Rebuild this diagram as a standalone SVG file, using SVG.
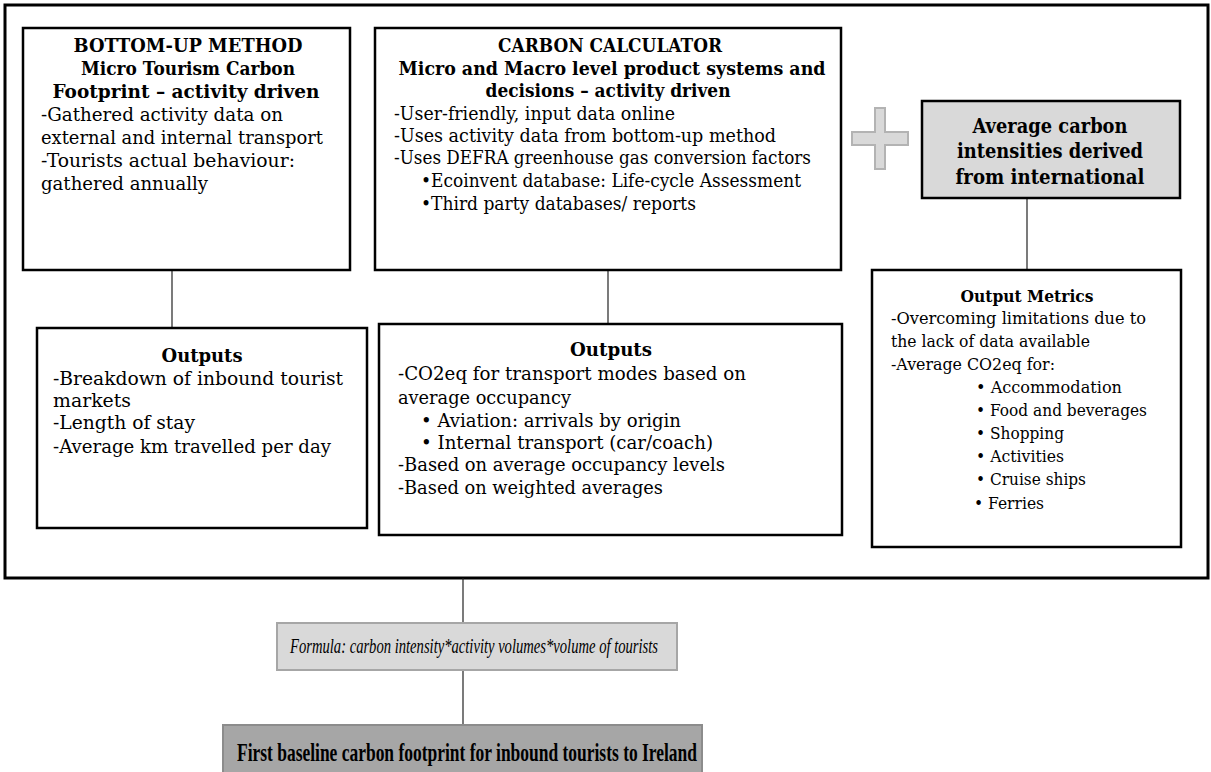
<svg xmlns="http://www.w3.org/2000/svg" width="1211" height="772" viewBox="0 0 1211 772">
<style>
.box{fill:#fff;stroke:#000;stroke-width:2.5}
.t{font-family:"DejaVu Serif","Liberation Serif",serif;font-size:18px;fill:#000}
.b{font-weight:bold}
.c{text-anchor:middle}
.con{stroke:#222;stroke-width:1.2;fill:none}
</style>
<rect x="0" y="0" width="1211" height="772" fill="#fff"/>
<g id="frame"><rect x="5" y="5" width="1203" height="573" fill="none" stroke="#000" stroke-width="3"/></g>
<g id="connectors">
<line class="con" x1="172" y1="270" x2="172" y2="328"/>
<line class="con" x1="608" y1="270" x2="608" y2="324"/>
<line class="con" x1="1027" y1="198" x2="1027" y2="270"/>
<line class="con" x1="463" y1="578" x2="463" y2="623"/>
<line class="con" x1="463" y1="670" x2="463" y2="725"/>
</g>
<g id="bottomup">
<rect class="box" x="23" y="28" width="327" height="242"/>
<text class="t b c" x="188" y="52" textLength="229" lengthAdjust="spacingAndGlyphs">BOTTOM-UP METHOD</text>
<text class="t b c" x="188" y="75" textLength="214" lengthAdjust="spacingAndGlyphs">Micro Tourism Carbon</text>
<text class="t b c" x="186" y="98" textLength="267" lengthAdjust="spacingAndGlyphs">Footprint – activity driven</text>
<text class="t" x="41" y="121" textLength="242" lengthAdjust="spacingAndGlyphs">-Gathered activity data on</text>
<text class="t" x="41" y="144" textLength="282" lengthAdjust="spacingAndGlyphs">external and internal transport</text>
<text class="t" x="41" y="167" textLength="254" lengthAdjust="spacingAndGlyphs">-Tourists actual behaviour:</text>
<text class="t" x="41" y="190" textLength="167" lengthAdjust="spacingAndGlyphs">gathered annually</text>
</g>
<g id="calculator">
<rect class="box" x="375" y="28" width="466" height="242"/>
<text class="t b c" x="610" y="52" textLength="224" lengthAdjust="spacingAndGlyphs">CARBON CALCULATOR</text>
<text class="t b c" x="612" y="75" textLength="427" lengthAdjust="spacingAndGlyphs">Micro and Macro level product systems and</text>
<text class="t b c" x="608" y="97" textLength="245" lengthAdjust="spacingAndGlyphs">decisions – activity driven</text>
<text class="t" x="394" y="120" textLength="281" lengthAdjust="spacingAndGlyphs">-User-friendly, input data online</text>
<text class="t" x="394" y="142" textLength="382" lengthAdjust="spacingAndGlyphs">-Uses activity data from bottom-up method</text>
<text class="t" x="394" y="164" textLength="417" lengthAdjust="spacingAndGlyphs">-Uses DEFRA greenhouse gas conversion factors</text>
<text class="t" x="421" y="187" textLength="380" lengthAdjust="spacingAndGlyphs">•Ecoinvent database: Life-cycle Assessment</text>
<text class="t" x="421" y="210" textLength="275" lengthAdjust="spacingAndGlyphs">•Third party databases/ reports</text>
</g>
<g id="plus">
<path d="M875,108 H885 V132 H908 V145 H885 V169 H875 V145 H852 V132 H875 Z" fill="#d9d9d9" stroke="#b3b3b3" stroke-width="2"/>
</g>
<g id="intensities">
<rect class="box" x="922" y="101" width="258" height="97" style="fill:#d9d9d9"/>
<text class="t b c" x="1050" y="133" style="font-size:20px" textLength="155" lengthAdjust="spacingAndGlyphs">Average carbon</text>
<text class="t b c" x="1050" y="158" style="font-size:20px" textLength="186" lengthAdjust="spacingAndGlyphs">intensities derived</text>
<text class="t b c" x="1050" y="184" style="font-size:20px" textLength="189" lengthAdjust="spacingAndGlyphs">from international</text>
</g>
<g id="outputs1">
<rect class="box" x="37" y="328" width="330" height="200"/>
<text class="t b c" x="202" y="362" textLength="81" lengthAdjust="spacingAndGlyphs">Outputs</text>
<text class="t" x="53" y="385" textLength="290" lengthAdjust="spacingAndGlyphs">-Breakdown of inbound tourist</text>
<text class="t" x="53" y="407" textLength="78" lengthAdjust="spacingAndGlyphs">markets</text>
<text class="t" x="53" y="429" textLength="142" lengthAdjust="spacingAndGlyphs">-Length of stay</text>
<text class="t" x="53" y="453" textLength="278" lengthAdjust="spacingAndGlyphs">-Average km travelled per day</text>
</g>
<g id="outputs2">
<rect class="box" x="379" y="324" width="463" height="211"/>
<text class="t b c" x="611" y="356" textLength="82" lengthAdjust="spacingAndGlyphs">Outputs</text>
<text class="t" x="398" y="380" textLength="348" lengthAdjust="spacingAndGlyphs">-CO2eq for transport modes based on</text>
<text class="t" x="398" y="404" textLength="173" lengthAdjust="spacingAndGlyphs">average occupancy</text>
<text class="t" x="421" y="427" textLength="260" lengthAdjust="spacingAndGlyphs">• Aviation: arrivals by origin</text>
<text class="t" x="421" y="449" textLength="292" lengthAdjust="spacingAndGlyphs">• Internal transport (car/coach)</text>
<text class="t" x="398" y="471" textLength="327" lengthAdjust="spacingAndGlyphs">-Based on average occupancy levels</text>
<text class="t" x="398" y="494" textLength="265" lengthAdjust="spacingAndGlyphs">-Based on weighted averages</text>
</g>
<g id="metrics">
<rect class="box" x="872" y="270" width="309" height="277"/>
<text class="t b c" x="1027" y="302" style="font-size:17px" textLength="133" lengthAdjust="spacingAndGlyphs">Output Metrics</text>
<text class="t" x="891" y="324" style="font-size:17px" textLength="255" lengthAdjust="spacingAndGlyphs">-Overcoming limitations due to</text>
<text class="t" x="891" y="347" style="font-size:17px" textLength="199" lengthAdjust="spacingAndGlyphs">the lack of data available</text>
<text class="t" x="891" y="370" style="font-size:17px" textLength="164" lengthAdjust="spacingAndGlyphs">-Average CO2eq for:</text>
<text class="t" x="976" y="393" style="font-size:17px" textLength="146" lengthAdjust="spacingAndGlyphs">• Accommodation</text>
<text class="t" x="976" y="416" style="font-size:17px" textLength="171" lengthAdjust="spacingAndGlyphs">• Food and beverages</text>
<text class="t" x="976" y="439" style="font-size:17px" textLength="88" lengthAdjust="spacingAndGlyphs">• Shopping</text>
<text class="t" x="976" y="462" style="font-size:17px" textLength="88" lengthAdjust="spacingAndGlyphs">• Activities</text>
<text class="t" x="976" y="485" style="font-size:17px" textLength="110" lengthAdjust="spacingAndGlyphs">• Cruise ships</text>
<text class="t" x="974" y="509" style="font-size:17px" textLength="70" lengthAdjust="spacingAndGlyphs">• Ferries</text>
</g>
<g id="formula">
<rect x="277" y="623" width="400" height="47" fill="#d9d9d9" stroke="#a6a6a6" stroke-width="2"/>
<text x="290" y="653" style="font-family:'Liberation Serif',serif;font-size:20px;font-style:italic" textLength="368" lengthAdjust="spacingAndGlyphs">Formula: carbon intensity*activity volumes*volume of tourists</text>
</g>
<g id="baseline">
<rect x="223" y="725" width="479" height="52" fill="#a6a6a6" stroke="#8c8c8c" stroke-width="2"/>
<text x="237" y="761" style="font-family:'Liberation Serif',serif;font-size:25px;font-weight:bold" textLength="460" lengthAdjust="spacingAndGlyphs">First baseline carbon footprint for inbound tourists to Ireland</text>
</g>
</svg>
